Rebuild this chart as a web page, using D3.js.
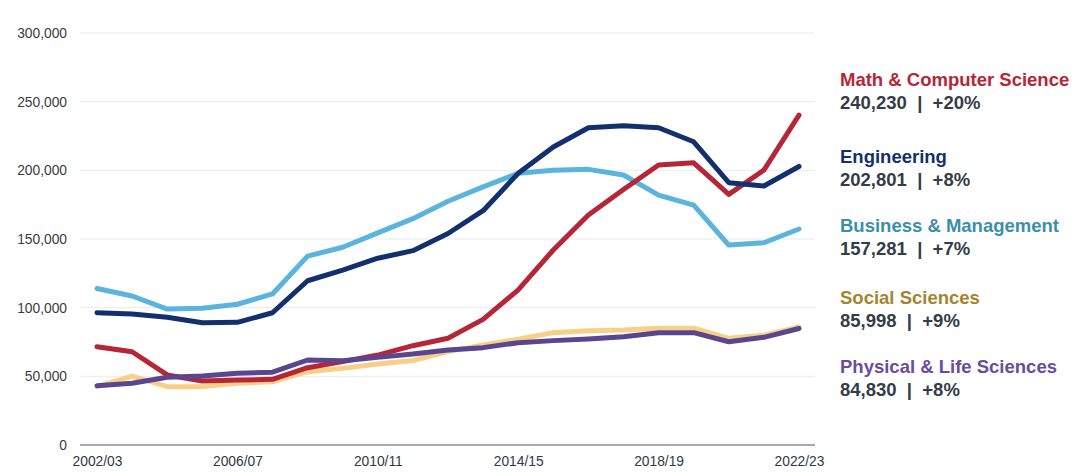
<!DOCTYPE html>
<html><head><meta charset="utf-8">
<script src="https://cdn.jsdelivr.net/npm/d3@7"></script>
<style>body{margin:0;background:#fff;} svg{display:block;font-family:"Liberation Sans",Arial,Helvetica,sans-serif;}</style>
</head><body>
<svg id="c" width="1080" height="476"></svg>
<script>
const years = ["2002/03","2003/04","2004/05","2005/06","2006/07","2007/08","2008/09","2009/10","2010/11","2011/12","2012/13","2013/14","2014/15","2015/16","2016/17","2017/18","2018/19","2019/20","2020/21","2021/22","2022/23"];
const xTickLabels = ["2002/03","2006/07","2010/11","2014/15","2018/19","2022/23"];
const yTicks = [0,50000,100000,150000,200000,250000,300000];

const socialSciences = [42500,50200,42500,42500,45000,46000,53400,55800,59000,61500,68000,72800,77000,81800,83200,83700,85000,85000,77700,80000,85998];
const business = [114000,108500,99000,99500,102500,110000,137500,144000,154500,164800,177500,188000,197800,200000,200700,196600,182000,174700,145600,147300,157281];
const math = [71600,67900,51000,46600,47300,47800,56300,60700,65500,72300,77700,91500,112900,142000,167500,186000,203900,205500,182500,200200,240230];
const physical = [43200,45000,49300,50200,52200,53000,61900,61400,63800,66300,69200,70900,74500,76000,77200,78900,81800,81800,75200,78400,84830];
const engineering = [96300,95400,93000,89000,89300,96300,119600,127400,136000,141500,154000,170600,197800,217000,231000,232500,231000,220800,191000,188600,202801];

const labelNames = ["Math & Computer Science","Engineering","Business & Management","Social Sciences","Physical & Life Sciences"];
const labelValues = ["240,230  |  +20%","202,801  |  +8%","157,281  |  +7%","85,998  |  +9%","84,830  |  +8%"];

const svg = d3.select("#c");
const x = d3.scalePoint().domain(years).range([97, 799]);
const y = d3.scaleLinear().domain([0, 300000]).range([445, 33]);

// gridlines
svg.append("g").selectAll("line").data(yTicks.slice(1)).join("line")
  .attr("x1", 80).attr("x2", 815)
  .attr("y1", d => y(d)).attr("y2", d => y(d))
  .attr("stroke", "#ebebeb").attr("stroke-width", 1);

// y axis labels
const yAxis = d3.axisLeft(y).tickValues(yTicks).tickSize(0).tickPadding(0).tickFormat(d3.format(","));
const ya = svg.append("g").attr("transform", "translate(67,0)").call(yAxis);
ya.select(".domain").remove();
ya.selectAll("text").attr("font-size", 13.8).attr("fill", "#3c3c3c").attr("font-family", "Liberation Sans, Arial, sans-serif");

// baseline
svg.append("line").attr("x1", 80).attr("x2", 815).attr("y1", y(0)).attr("y2", y(0))
  .attr("stroke", "#555").attr("stroke-width", 1.2);

// x axis labels
const xAxis = d3.axisBottom(x).tickValues(xTickLabels).tickSize(0).tickPadding(0);
const xa = svg.append("g").attr("transform", "translate(0,456)").call(xAxis);
xa.select(".domain").remove();
xa.selectAll("text").attr("font-size", 13.8).attr("fill", "#2f3a46").attr("dy", "0.71em").attr("font-family", "Liberation Sans, Arial, sans-serif");

const line = d3.line().x((d, i) => x(years[i])).y(d => y(d));
const series = [
  {v: socialSciences, c: "#f7cf87"},
  {v: business, c: "#5ab4dc"},
  {v: math, c: "#b52636"},
  {v: physical, c: "#5a4590"},
  {v: engineering, c: "#13306e"}
];
svg.append("g").selectAll("path").data(series).join("path")
  .attr("d", d => line(d.v)).attr("fill", "none")
  .attr("stroke", d => d.c).attr("stroke-width", 5)
  .attr("stroke-linejoin", "round").attr("stroke-linecap", "round");

// right labels
const labelColors = ["#b52636","#13306e","#3b8fab","#a3852f","#6a4c9c"];
const labelY = [86, 163, 232, 304, 373];
const lg = svg.append("g");
labelNames.forEach((n, i) => {
  lg.append("text").attr("x", 840).attr("y", labelY[i]).attr("font-size", 18.5).attr("font-weight", "bold")
    .attr("fill", labelColors[i]).text(n);
  lg.append("text").attr("x", 840).attr("y", labelY[i] + 23).attr("font-size", 18.5).attr("font-weight", "bold")
    .attr("fill", "#333d47").attr("xml:space", "preserve").style("white-space", "pre").text(labelValues[i]);
});
</script>
</body></html>
